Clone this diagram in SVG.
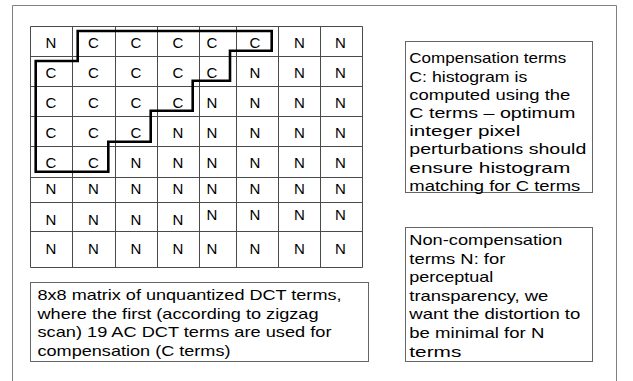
<svg xmlns="http://www.w3.org/2000/svg" width="633" height="381" viewBox="0 0 633 381">
  <style>
    .frame { fill: none; stroke: #808080; stroke-width: 1; }
    .grid { fill: none; stroke: #4a4a4a; stroke-width: 1; }
    .box { fill: #ffffff; stroke: #666666; stroke-width: 1; }
    .zone { fill: none; stroke: #000000; stroke-width: 2.6; stroke-linejoin: miter; }
    .cell { font-family: "Liberation Sans", Arial, sans-serif; font-size: 15px; fill: #000; text-anchor: middle; }
    .note { font-family: "Liberation Sans", Arial, sans-serif; font-size: 15px; fill: #000; }
  </style>
  <rect width="633" height="381" fill="#ffffff"/>

  <!-- slide frame (open at the bottom) -->
  <path class="frame" d="M12.5,381 V5.5 H616.5 V381"/>

  <!-- 8x8 DCT coefficient grid -->
  <g id="matrix">
    <path class="grid" d="M30.5,26.5 H362.5 V267.5 H30.5 Z
      M72.5,26.5 V267.5 M115.5,26.5 V267.5 M157.5,26.5 V267.5 M199.5,26.5 V267.5
      M236.5,26.5 V267.5 M278.5,26.5 V267.5 M320.5,26.5 V267.5
      M30.5,56.5 H362.5 M30.5,86.5 H362.5 M30.5,116.5 H362.5 M30.5,146.5 H362.5
      M30.5,177.5 H362.5 M30.5,202.5 H362.5 M30.5,231.5 H362.5"/>
    <g class="cell">
      <!-- row 1 -->
      <text x="51" y="47.5">N</text><text x="93.5" y="47.5">C</text><text x="136" y="47.5">C</text><text x="178" y="47.5">C</text>
      <text x="212" y="47.5">C</text><text x="255" y="47.5">C</text><text x="299.5" y="47.5">N</text><text x="340.5" y="47.5">N</text>
      <!-- row 2 -->
      <text x="51" y="77.5">C</text><text x="93.5" y="77.5">C</text><text x="136" y="77.5">C</text><text x="178" y="77.5">C</text>
      <text x="212" y="77.5">C</text><text x="255" y="77.5">N</text><text x="299.5" y="77.5">N</text><text x="340.5" y="77.5">N</text>
      <!-- row 3 -->
      <text x="51" y="107.5">C</text><text x="93.5" y="107.5">C</text><text x="136" y="107.5">C</text><text x="178" y="107.5">C</text>
      <text x="212" y="107.5">N</text><text x="255" y="107.5">N</text><text x="299.5" y="107.5">N</text><text x="340.5" y="107.5">N</text>
      <!-- row 4 -->
      <text x="51" y="137.5">C</text><text x="93.5" y="137.5">C</text><text x="136" y="137.5">C</text><text x="178" y="137.5">N</text>
      <text x="212" y="137.5">N</text><text x="255" y="137.5">N</text><text x="299.5" y="137.5">N</text><text x="340.5" y="137.5">N</text>
      <!-- row 5 -->
      <text x="51" y="167.5">C</text><text x="93.5" y="167.5">C</text><text x="136" y="167.5">N</text><text x="178" y="167.5">N</text>
      <text x="212" y="167.5">N</text><text x="255" y="167.5">N</text><text x="299.5" y="167.5">N</text><text x="340.5" y="167.5">N</text>
      <!-- row 6 -->
      <text x="51" y="194">N</text><text x="93.5" y="194">N</text><text x="136" y="194">N</text><text x="178" y="194">N</text>
      <text x="212" y="194">N</text><text x="255" y="194">N</text><text x="299.5" y="194">N</text><text x="340.5" y="194">N</text>
      <!-- row 7 -->
      <text x="51" y="224.5">N</text><text x="93.5" y="224.5">N</text><text x="136" y="224.5">N</text><text x="178" y="224.5">N</text>
      <text x="212" y="219.5">N</text><text x="255" y="219.5">N</text><text x="299.5" y="219.5">N</text><text x="340.5" y="219.5">N</text>
      <!-- row 8 -->
      <text x="51" y="254">N</text><text x="93.5" y="254">N</text><text x="136" y="254">N</text><text x="178" y="254">N</text>
      <text x="212" y="254">N</text><text x="255" y="254">N</text><text x="299.5" y="254">N</text><text x="340.5" y="254">N</text>
    </g>
    <!-- outline of the compensation (C) region -->
    <path class="zone" d="M77.7,31 H271.7 V50.7 H230 V80.7 H192.7 V110.7 H150.7 V141.7 H108.3 V171.7 H35.7 V61 H77.7 Z"/>
  </g>

  <g id="caption-matrix">
    <rect class="box" x="30.5" y="282.5" width="338" height="79"/>
    <g class="note">
      <text x="37.5" y="300" textLength="304" lengthAdjust="spacingAndGlyphs">8x8 matrix of unquantized DCT terms,</text>
      <text x="37.5" y="318.5" textLength="281" lengthAdjust="spacingAndGlyphs">where the first (according to zigzag</text>
      <text x="37.5" y="337" textLength="294" lengthAdjust="spacingAndGlyphs">scan) 19 AC DCT terms are used for</text>
      <text x="37.5" y="355.5" textLength="193" lengthAdjust="spacingAndGlyphs">compensation (C terms)</text>
    </g>
  </g>

  <g id="note-compensation">
    <rect class="box" x="405.5" y="41.5" width="187" height="151"/>
    <g class="note">
      <text x="409.3" y="63.3" textLength="157" lengthAdjust="spacingAndGlyphs">Compensation terms</text>
      <text x="409.3" y="81.5" textLength="118" lengthAdjust="spacingAndGlyphs">C: histogram is</text>
      <text x="409.3" y="99.7" textLength="161" lengthAdjust="spacingAndGlyphs">computed using the</text>
      <text x="409.3" y="117.9" textLength="166" lengthAdjust="spacingAndGlyphs">C terms – optimum</text>
      <text x="409.3" y="136.1" textLength="111" lengthAdjust="spacingAndGlyphs">integer pixel</text>
      <text x="409.3" y="154.3" textLength="177" lengthAdjust="spacingAndGlyphs">perturbations should</text>
      <text x="409.3" y="172.5" textLength="161" lengthAdjust="spacingAndGlyphs">ensure histogram</text>
      <text x="409.3" y="190.7" textLength="171" lengthAdjust="spacingAndGlyphs">matching for C terms</text>
    </g>
  </g>

  <g id="note-noncompensation">
    <rect class="box" x="405.5" y="227.5" width="187" height="134"/>
    <g class="note">
      <text x="409.3" y="245" textLength="153" lengthAdjust="spacingAndGlyphs">Non-compensation</text>
      <text x="409.3" y="263.6" textLength="96" lengthAdjust="spacingAndGlyphs">terms N: for</text>
      <text x="409.3" y="282.2" textLength="84" lengthAdjust="spacingAndGlyphs">perceptual</text>
      <text x="409.3" y="300.8" textLength="139" lengthAdjust="spacingAndGlyphs">transparency, we</text>
      <text x="409.3" y="319.4" textLength="171" lengthAdjust="spacingAndGlyphs">want the distortion to</text>
      <text x="409.3" y="338" textLength="135" lengthAdjust="spacingAndGlyphs">be minimal for N</text>
      <text x="409.3" y="356.6" textLength="52" lengthAdjust="spacingAndGlyphs">terms</text>
    </g>
  </g>
</svg>
